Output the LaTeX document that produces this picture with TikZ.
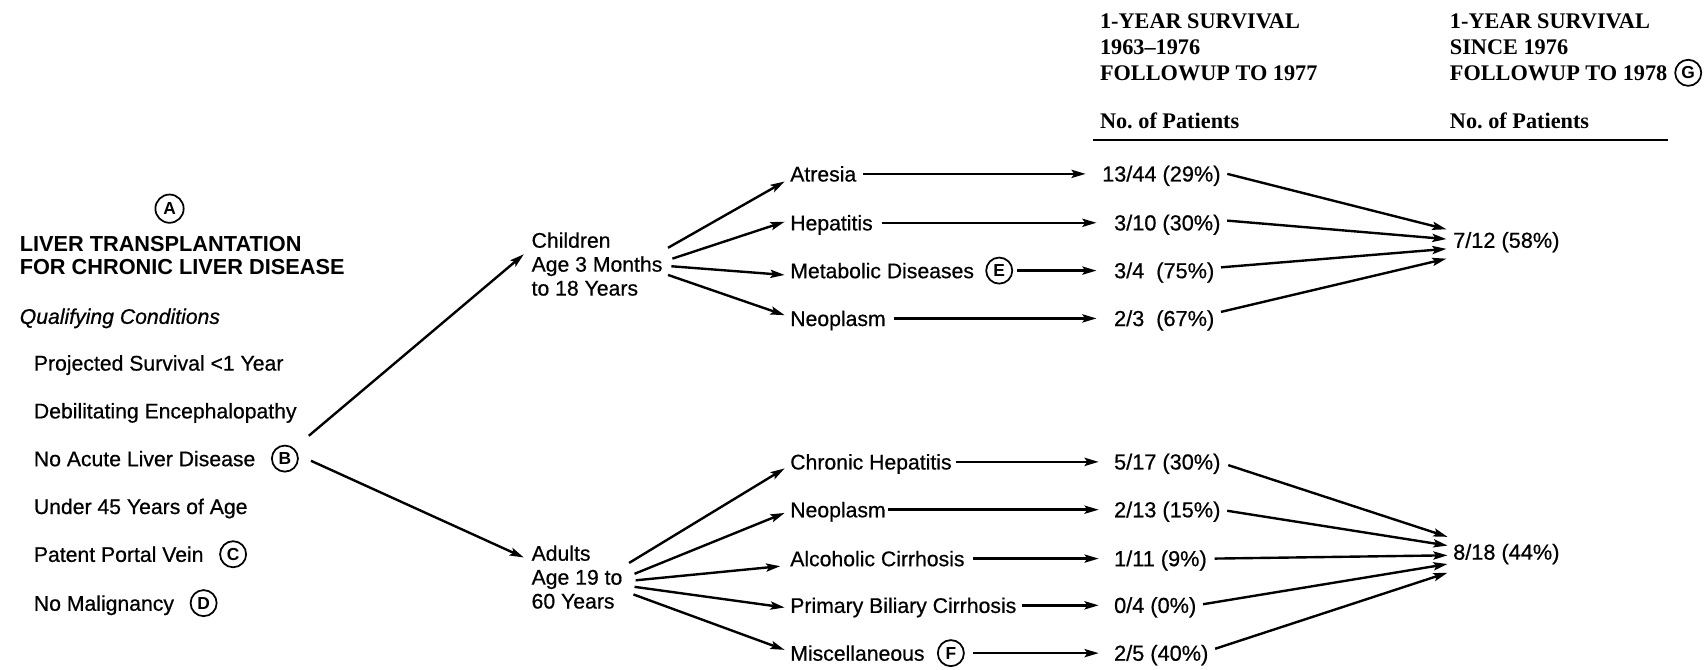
\documentclass[tikz,border=0pt]{standalone}
\usepackage{fontspec}
\setmainfont{Liberation Sans}[UprightFeatures={FakeBold=0.6},ItalicFeatures={FakeBold=0.6}]
\newfontfamily\hdfont{Liberation Serif}
\usetikzlibrary{arrows.meta,calc}
\begin{document}
\begin{tikzpicture}[x=1pt,y=-1pt,
  every node/.style={inner sep=0pt,font=\fontsize{19.5}{22}\selectfont},
  lbl/.style={anchor=west,text height=14pt,text depth=0pt},
  num/.style={lbl,font=\fontsize{20}{22}\selectfont},
  ttl/.style={lbl,font=\fontsize{20}{22}\selectfont\bfseries},
  hdr/.style={lbl,font=\fontsize{20.5}{24}\selectfont\hdfont\bfseries},
  grp/.style={anchor=west,align=left},
  circ/.style={circle,draw,line width=1.6pt,minimum size=24pt,inner sep=0pt,font=\fontsize{16}{16}\selectfont\bfseries},
  arr/.style={line width=2.2pt,-{Stealth[length=13pt,width=7.5pt,inset=2.5pt]}},
  rule/.style={line width=1.6pt},
]
\useasboundingbox (0,0) rectangle (1568,616);

% ---------- left column ----------
\node[circ,minimum size=26pt] (A) at (156,192) {A};
\node[ttl] (t1) at (18,224) {LIVER TRANSPLANTATION};
\node[ttl] (t2) at (18,246) {FOR CHRONIC LIVER DISEASE};
\node[lbl,font=\fontsize{19.5}{22}\selectfont\itshape] (q) at (18,291) {Qualifying Conditions};
\node[lbl] (c1) at (31,334) {Projected Survival <1 Year};
\node[lbl] (c2) at (31,378) {Debilitating Encephalopathy};
\node[lbl] (c3) at (31,422) {No Acute Liver Disease};
\node[lbl] (c4) at (31,466) {Under 45 Years of Age};
\node[lbl] (c5) at (31,510) {Patent Portal Vein};
\node[lbl] (c6) at (31,555) {No Malignancy};
\node[circ] (B) at ($(c3.east)+(27,0)$) {B};
\node[circ] (C) at ($(c5.east)+(27,0)$) {C};
\node[circ] (D) at ($(c6.east)+(27,0)$) {D};

% ---------- groups ----------
\node[grp] (ch) at (489,243) {Children\\Age 3 Months\\to 18 Years};
\node[grp] (ad) at (489,531) {Adults\\Age 19 to\\60 Years};
\draw[arr] ($(B)+(22,-21)$) -- ($(ch.west)+(-7,-9)$);
\draw[arr] ($(B)+(24,2)$) -- ($(ad.west)+(-7,-18)$);

% ---------- children branches ----------
\node[lbl] (atr) at (727,160) {Atresia};
\node[lbl] (hep) at (727,205) {Hepatitis};
\node[lbl] (met) at (727,249) {Metabolic Diseases};
\node[circ] (E) at ($(met.east)+(23,0)$) {E};
\node[lbl] (neoa) at (727,293) {Neoplasm};

\draw[arr] ($(ch.east)+(5,-15)$) -- ($(atr.west)+(-5,7)$);
\draw[arr] ($(ch.east)+(9,-5)$) -- ($(hep.west)+(-5,-1)$);
\draw[arr] ($(ch.east)+(8,2)$) -- ($(met.west)+(-5,4)$);
\draw[arr] ($(ch.east)+(5,10)$) -- ($(neoa.west)+(-5,-3)$);

% ---------- adult branches ----------
\node[lbl] (chr) at (727,425) {Chronic Hepatitis};
\node[lbl] (neob) at (727,469) {Neoplasm};
\node[lbl] (alc) at (727,514) {Alcoholic Cirrhosis};
\node[lbl] (pbc) at (727,557) {Primary Biliary Cirrhosis};
\node[lbl] (mis) at (727,601) {Miscellaneous};
\node[circ] (F) at ($(mis.east)+(24,0)$) {F};

\draw[arr] ($(ad.east)+(6,-13)$) -- ($(chr.west)+(-5,6)$);
\draw[arr] ($(ad.east)+(11,-3)$) -- ($(neob.west)+(-5,3)$);
\draw[arr] ($(ad.east)+(12,3)$) -- ($(alc.west)+(-9,7)$);
\draw[arr] ($(ad.east)+(11,9)$) -- ($(pbc.west)+(-5,2)$);
\draw[arr] ($(ad.east)+(10,16)$) -- ($(mis.west)+(-5,-3)$);

% ---------- 1963-1976 results ----------
\node[num] (n1) at (1014,160) {13/44 (29\%)};
\node[num] (n2) at (1025,205) {3/10 (30\%)};
\node[num] (n3) at (1025,249) {3/4\hspace{0.55em}(75\%)};
\node[num] (n4) at (1025,293) {2/3\hspace{0.55em}(67\%)};
\node[num] (n5) at (1025,425) {5/17 (30\%)};
\node[num] (n6) at (1025,469) {2/13 (15\%)};
\node[num] (n7) at (1025,514) {1/11 (9\%)};
\node[num] (n8) at (1025,557) {0/4 (0\%)};
\node[num] (n9) at (1025,601) {2/5 (40\%)};

\draw[arr] ($(atr.east)+(6,0)$) -- ($(n1.west)+(-15,0)$);
\draw[arr] ($(hep.east)+(8,0)$) -- ($(n2.west)+(-16,0)$);
\draw[arr] ($(E.east)+(4,0)$) -- ($(n3.west)+(-16,0)$);
\draw[arr] ($(neoa.east)+(7,0)$) -- ($(n4.west)+(-16,0)$);
\draw[arr] ($(chr.east)+(4,0)$) -- ($(n5.west)+(-14,0)$);
\draw[arr] ($(neob.east)+(2,0)$) -- ($(n6.west)+(-14,0)$);
\draw[arr] ($(alc.east)+(8,0)$) -- ($(n7.west)+(-14,0)$);
\draw[arr] ($(pbc.east)+(5,0)$) -- ($(n8.west)+(-14,0)$);
\draw[arr] ($(F.east)+(8,0)$) -- ($(n9.west)+(-14,0)$);

% ---------- since 1976 ----------
\node[num] (s1) at (1337,221) {7/12 (58\%)};
\node[num] (s2) at (1337,508) {8/18 (44\%)};

\draw[arr] ($(n1.east)+(6,0)$) -- ($(s1.west)+(-6,-10)$);
\draw[arr] ($(n2.east)+(6,-2)$) -- ($(s1.west)+(-6,-1)$);
\draw[arr] ($(n3.east)+(6,-3)$) -- ($(s1.west)+(-6,8)$);
\draw[arr] ($(n4.east)+(6,-6)$) -- ($(s1.west)+(-6,17)$);

\draw[arr] ($(n5.east)+(7,3)$) -- ($(s2.west)+(-5,-14)$);
\draw[arr] ($(n6.east)+(6,1)$) -- ($(s2.west)+(-5,-6)$);
\draw[arr] ($(n7.east)+(7,0)$) -- ($(s2.west)+(-5,3)$);
\draw[arr] ($(n8.east)+(6,-1)$) -- ($(s2.west)+(-5,11)$);
\draw[arr] ($(n9.east)+(6,-4)$) -- ($(s2.west)+(-5,19)$);

% ---------- headers ----------
\node[hdr] (h1a) at (1012,19) {1-YEAR SURVIVAL};
\node[hdr] (h1b) at (1012,43) {1963–1976};
\node[hdr] (h1c) at (1012,67) {FOLLOWUP TO 1977};
\node[hdr] (h1d) at (1012,111) {No.\ of Patients};
\node[hdr] (h2a) at (1334,19) {1-YEAR SURVIVAL};
\node[hdr] (h2b) at (1334,43) {SINCE 1976};
\node[hdr] (h2c) at (1334,67) {FOLLOWUP TO 1978};
\node[circ] (G) at ($(h2c.east)+(19,0)$) {G};
\node[hdr] (h2d) at (1334,111) {No.\ of Patients};
\draw[rule] ($(h1d.west)+(-6,18)$) coordinate (r0) -- ($(h2d.west)+(201,18)$) coordinate (r1);
\end{tikzpicture}
\end{document}
